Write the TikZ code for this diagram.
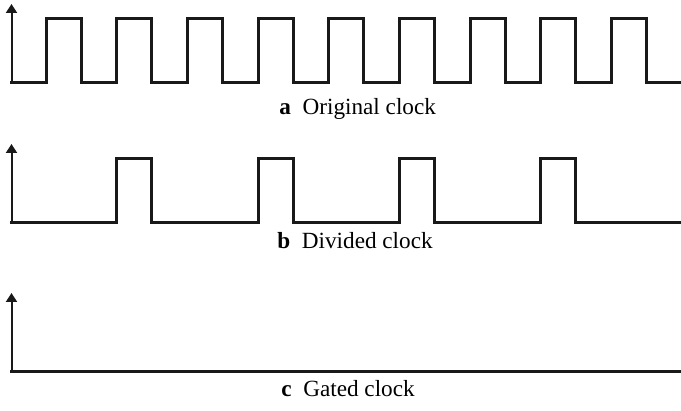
\documentclass[tikz,border=0pt]{standalone}
\usepackage{fontspec}
\setmainfont{Liberation Serif}
\usetikzlibrary{arrows.meta}

\begin{document}
\begin{tikzpicture}[x=0.5pt, y=-0.5pt,
    wave/.style={line width=1.5pt, color=black!90, line join=miter},
    axis/.style={line width=1pt, color=black!90, -{Triangle[width=5.5pt, length=4.5pt]}},
    caption/.style={anchor=base west, inner sep=0pt, font=\fontsize{11.6}{14}\selectfont}]
	%%%%% START %%%%%
	\useasboundingbox (0, 0) rectangle (681, 411);

	% original clock
	\draw[axis] (11.5, 84) -- (11.5, 4);
	\draw[wave] (10, 83)
		\foreach \k in {0,...,8} {
			-- ({46+70.7*\k}, 83) -- ({46+70.7*\k}, 19)
			-- ({81+70.7*\k}, 19) -- ({81+70.7*\k}, 83)
		} -- (681, 83);
	\node[caption] (capA) at (279, 114.5) {\textbf{a}\enspace Original clock};

	% divided clock
	\draw[axis] (11.5, 224) -- (11.5, 144);
	\draw[wave] (10, 223)
		\foreach \k in {1,3,5,7} {
			-- ({46+70.7*\k}, 223) -- ({46+70.7*\k}, 159)
			-- ({81+70.7*\k}, 159) -- ({81+70.7*\k}, 223)
		} -- (681, 223);
	\node[caption] (capB) at (277, 248.5) {\textbf{b}\enspace Divided clock};

	% gated clock
	\draw[axis] (11.5, 373) -- (11.5, 293);
	\draw[wave] (10, 372) -- (681, 372);
	\node[caption] (capC) at (281, 396.5) {\textbf{c}\enspace Gated clock};
	%%%%% END %%%%%
\end{tikzpicture}
\end{document}
